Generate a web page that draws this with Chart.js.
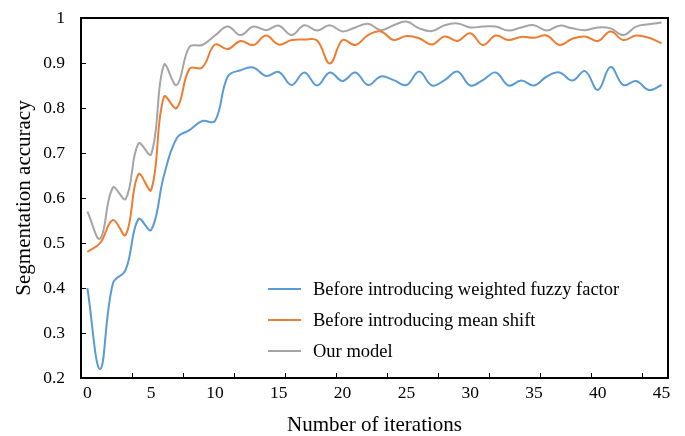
<!DOCTYPE html>
<html>
<head>
<meta charset="utf-8">
<script src="https://cdn.jsdelivr.net/npm/chart.js@4/dist/chart.umd.min.js"></script>
<style>
  html, body { margin: 0; padding: 0; background: #fff; }
  #wrap { width: 685px; height: 436px; }
</style>
</head>
<body>
<div id="wrap"><canvas id="myChart" width="685" height="436"></canvas></div>
<script>
// iterations 0..45
const iterations = Array.from({ length: 46 }, (_, i) => i);

const fuzzyFactor = [
    0.40, 0.22, 0.41, 0.44, 0.553, 0.529, 0.65, 0.733, 0.751, 0.771,
    0.771, 0.87, 0.884, 0.89, 0.871, 0.88, 0.851, 0.879, 0.85, 0.879,
    0.86, 0.879, 0.851, 0.87, 0.862, 0.851, 0.881, 0.85, 0.862, 0.881,
    0.85, 0.862, 0.879, 0.85, 0.861, 0.85, 0.87, 0.879, 0.861, 0.882,
    0.84, 0.891, 0.851, 0.86, 0.84, 0.851
];
const meanShift = [
    0.48, 0.50, 0.551, 0.518, 0.653, 0.618, 0.825, 0.80, 0.887, 0.89,
    0.941, 0.931, 0.949, 0.94, 0.961, 0.941, 0.951, 0.952, 0.95, 0.899,
    0.951, 0.94, 0.962, 0.97, 0.951, 0.96, 0.955, 0.941, 0.959, 0.949,
    0.966, 0.94, 0.961, 0.951, 0.958, 0.956, 0.961, 0.94, 0.954, 0.959,
    0.949, 0.97, 0.951, 0.961, 0.956, 0.944
];
const ourModel = [
    0.57, 0.51, 0.623, 0.598, 0.721, 0.697, 0.896, 0.851, 0.936, 0.94,
    0.961, 0.981, 0.962, 0.981, 0.973, 0.983, 0.962, 0.984, 0.972, 0.984,
    0.97, 0.979, 0.987, 0.973, 0.984, 0.992, 0.977, 0.971, 0.984, 0.988,
    0.979, 0.981, 0.981, 0.972, 0.979, 0.984, 0.972, 0.983, 0.977, 0.973,
    0.979, 0.977, 0.962, 0.981, 0.986, 0.99
];
const xTickValues = [0, 5, 10, 15, 20, 25, 30, 35, 40, 45];

const seriesNames = [
    'Before introducing weighted fuzzy factor',
    'Before introducing mean shift',
    'Our model'
];
const seriesColors = ['#5B9BD5', '#ED7D31', '#A5A5A5'];

const serif = '"Liberation Serif", "Times New Roman", serif';

function toPoints(values) {
    return values.map((v, i) => ({ x: iterations[i], y: v }));
}

// box round the plot, inward tick marks, legend inside the plot
const excelLook = {
    id: 'excelLook',
    afterDraw(chart) {
        const ctx = chart.ctx;
        const a = chart.chartArea;
        const xs = chart.scales.x;
        const ys = chart.scales.y;
        ctx.save();
        ctx.strokeStyle = '#000';
        ctx.lineWidth = 1;
        ctx.beginPath();
        for (let v = 0.3; v < 1; v += 0.1) {
            const y = Math.round(ys.getPixelForValue(v)) + 0.5;
            ctx.moveTo(a.left, y);
            ctx.lineTo(a.left + 5, y);
        }
        for (let c = 3.5; c < 45; c += 4) {
            const x = Math.round(xs.getPixelForValue(c)) + 0.5;
            ctx.moveTo(x, a.bottom);
            ctx.lineTo(x, a.bottom - 5);
        }
        ctx.stroke();
        ctx.lineWidth = 2;
        ctx.strokeRect(a.left, a.top, a.right - a.left, a.bottom - a.top);

        ctx.font = '18.5px ' + serif;
        ctx.textBaseline = 'middle';
        ctx.fillStyle = '#000';
        chart.data.datasets.forEach((ds, i) => {
            const y = a.top + 271 + i * 31;
            const x0 = a.left + 187;
            ctx.strokeStyle = ds.borderColor;
            ctx.lineWidth = 2;
            ctx.beginPath();
            ctx.moveTo(x0, y);
            ctx.lineTo(x0 + 33, y);
            ctx.stroke();
            ctx.fillText(ds.label, x0 + 45, y + 1);
        });
        ctx.restore();
    }
};

const ctx = document.getElementById('myChart');
const chart = new Chart(ctx, {
    type: 'line',
    data: {
        datasets: [fuzzyFactor, meanShift, ourModel].map((vals, i) => ({
            label: seriesNames[i],
            data: toPoints(vals),
            borderColor: seriesColors[i],
            backgroundColor: seriesColors[i],
            borderWidth: 2,
            pointRadius: 0,
            tension: 0.4,
            fill: false
        }))
    },
    options: {
        responsive: false,
        animation: false,
        layout: { padding: { top: 18, right: 17, left: 12, bottom: 0 } },
        plugins: {
            legend: { display: false },
            tooltip: { enabled: false }
        },
        scales: {
            x: {
                type: 'linear',
                min: -0.5,
                max: 45.5,
                afterBuildTicks: (scale) => {
                    scale.ticks = xTickValues.map((v) => ({ value: v }));
                },
                afterFit: (scale) => { scale.height = 58; },
                grid: { display: false, drawTicks: false },
                border: { display: false },
                ticks: {
                    autoSkip: false,
                    maxRotation: 0,
                    padding: 5,
                    color: '#000',
                    font: { family: serif, size: 17.5 }
                },
                title: {
                    display: true,
                    text: 'Number of iterations',
                    color: '#000',
                    padding: { top: 0, bottom: 0 },
                    font: { family: serif, size: 21, lineHeight: 1 }
                }
            },
            y: {
                min: 0.2,
                max: 1,
                afterFit: (scale) => {
                    scale.width = 69;
                    scale.paddingTop = 0;
                    scale.paddingBottom = 0;
                },
                grid: { display: false, drawTicks: false },
                border: { display: false },
                ticks: {
                    stepSize: 0.1,
                    padding: 16,
                    color: '#000',
                    font: { family: serif, size: 17.5 },
                    callback: (v) => String(Number(v.toFixed(1)))
                },
                title: {
                    display: true,
                    text: 'Segmentation accuracy',
                    color: '#000',
                    padding: { top: 0, bottom: 0 },
                    font: { family: serif, size: 21 }
                }
            }
        }
    },
    plugins: [excelLook]
});
</script>
</body>
</html>
